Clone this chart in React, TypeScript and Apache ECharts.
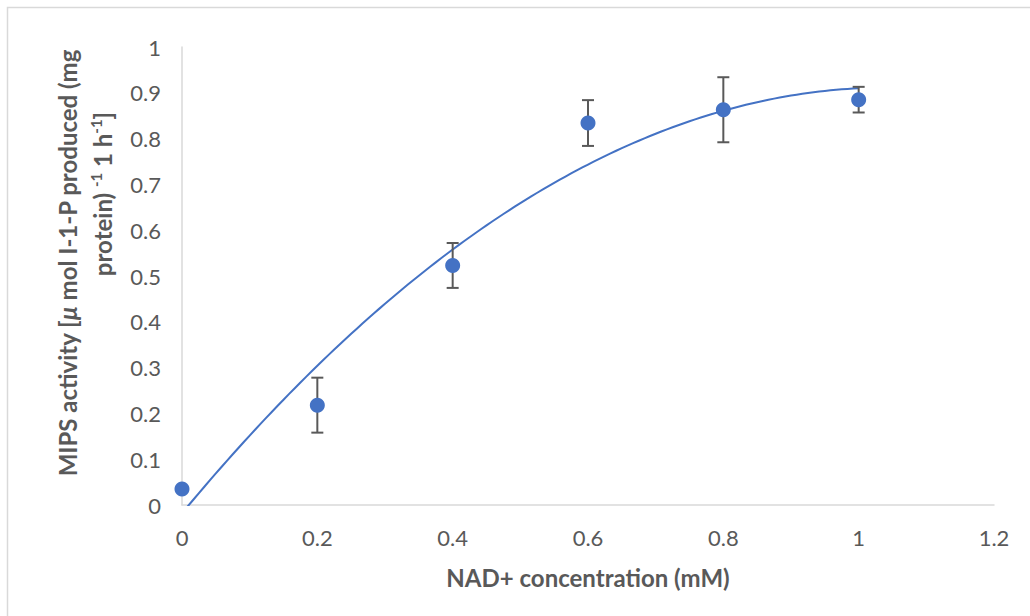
import React, { useEffect, useRef } from "react";
import * as echarts from "echarts";

// NAD+ concentration (mM)
const xValues = [0, 0.2, 0.4, 0.6, 0.8, 1.0];
// MIPS activity
const yValues = [0.035, 0.218, 0.523, 0.834, 0.863, 0.885];
// standard error (+/-)
const yErrors = [0, 0.06, 0.049, 0.05, 0.071, 0.028];

const xTicks = { min: 0, max: 1.2, interval: 0.2 };
const yTicks = { min: 0, max: 1, interval: 0.1 };

const BLUE = "#4472C4";
const GREY = "#595959";
const FONT = "Lato, 'Open Sans', sans-serif";

// least-squares quadratic fit (Excel polynomial trendline, order 2)
function polyFit2(xs: number[], ys: number[]) {
  const n = xs.length;
  let sx = 0, sx2 = 0, sx3 = 0, sx4 = 0, sy = 0, sxy = 0, sx2y = 0;
  for (let i = 0; i < n; i++) {
    const x = xs[i], y = ys[i];
    sx += x; sx2 += x * x; sx3 += x * x * x; sx4 += x * x * x * x;
    sy += y; sxy += x * y; sx2y += x * x * y;
  }
  const m = [
    [n, sx, sx2, sy],
    [sx, sx2, sx3, sxy],
    [sx2, sx3, sx4, sx2y],
  ];
  for (let i = 0; i < 3; i++) {
    for (let k = i + 1; k < 3; k++) {
      const f = m[k][i] / m[i][i];
      for (let j = i; j < 4; j++) m[k][j] -= f * m[i][j];
    }
  }
  const r = [0, 0, 0];
  for (let i = 2; i >= 0; i--) {
    let s = m[i][3];
    for (let j = i + 1; j < 3; j++) s -= m[i][j] * r[j];
    r[i] = s / m[i][i];
  }
  return { c: r[0], b: r[1], a: r[2] };
}

export default function App() {
  const ref = useRef<HTMLDivElement>(null);
  useEffect(() => {
    if (!ref.current) return;
    const chart = echarts.init(ref.current, null, { renderer: "svg" });
    const fit = polyFit2(xValues, yValues);
    const xStart = xValues[0];
    const xEnd = xValues[xValues.length - 1];
    const trend: number[][] = [];
    const steps = 120;
    for (let i = 0; i <= steps; i++) {
      const x = xStart + ((xEnd - xStart) * i) / steps;
      trend.push([x, fit.a * x * x + fit.b * x + fit.c]);
    }
    const errData = xValues.map((x, i) => [x, yValues[i], yErrors[i]]);
    const points = xValues.map((x, i) => [x, yValues[i]]);

    chart.setOption({
      animation: false,
      backgroundColor: "#ffffff",
      grid: { left: 182, right: 36, top: 47, bottom: 111, containLabel: false },
      xAxis: {
        type: "value",
        min: xTicks.min,
        max: xTicks.max,
        interval: xTicks.interval,
        axisLine: { show: true, lineStyle: { color: "#d9d9d9", width: 1.5 } },
        axisTick: { show: false },
        splitLine: { show: false },
        axisLabel: { color: GREY, fontSize: 22, fontFamily: FONT, margin: 21 },
        name: "NAD+ concentration (mM)",
        nameLocation: "middle",
        nameGap: 60,
        nameTextStyle: { color: GREY, fontSize: 24, fontWeight: "bold", fontFamily: FONT },
      },
      yAxis: {
        type: "value",
        min: yTicks.min,
        max: yTicks.max,
        interval: yTicks.interval,
        axisLine: { show: true, lineStyle: { color: "#d9d9d9", width: 1.5 } },
        axisTick: { show: false },
        splitLine: { show: false },
        axisLabel: { color: GREY, fontSize: 22, fontFamily: FONT, margin: 21 },
      },
      graphic: [
        {
          type: "rect",
          z: -10,
          silent: true,
          shape: { x: 7.5, y: 7.5, width: 1040, height: 640 },
          style: { fill: "none", stroke: "#d9d9d9", lineWidth: 1.5 },
        },
        {
          type: "text",
          x: 67,
          y: 263,
          rotation: Math.PI / 2,
          style: {
            text: "MIPS activity [{mu|μ} mol I-1-P produced (mg",
            fill: GREY,
            fontSize: 24,
            fontWeight: "bold",
            fontFamily: FONT,
            align: "center",
            verticalAlign: "middle",
            rich: {
              mu: { fontSize: 24, fontWeight: "bold", fontStyle: "italic", fontFamily: FONT, fill: GREY },
            },
          },
        },
        {
          type: "text",
          x: 102,
          y: 194,
          rotation: Math.PI / 2,
          style: {
            text: "protein) {sup|-1} 1 h{sup|-1}]",
            fill: GREY,
            fontSize: 24,
            fontWeight: "bold",
            fontFamily: FONT,
            align: "center",
            verticalAlign: "middle",
            lineHeight: 28,
            rich: {
              sup: { fontSize: 15, fontWeight: "bold", fontFamily: FONT, fill: GREY, verticalAlign: "top", lineHeight: 28 },
            },
          },
        },
      ],
      series: [
        {
          type: "line",
          data: trend,
          showSymbol: false,
          symbol: "none",
          smooth: false,
          clip: true,
          lineStyle: { color: BLUE, width: 2 },
          z: 2,
        },
        {
          type: "custom",
          data: errData,
          z: 3,
          renderItem: (params: any, api: any) => {
            const x = api.value(0);
            const y = api.value(1);
            const e = api.value(2);
            if (!e) return { type: "group", children: [] };
            const top = api.coord([x, y + e]);
            const bot = api.coord([x, y - e]);
            const hw = 6;
            const style = { stroke: GREY, lineWidth: 2 };
            return {
              type: "group",
              children: [
                { type: "line", shape: { x1: top[0], y1: top[1], x2: bot[0], y2: bot[1] }, style },
                { type: "line", shape: { x1: top[0] - hw, y1: top[1], x2: top[0] + hw, y2: top[1] }, style },
                { type: "line", shape: { x1: bot[0] - hw, y1: bot[1], x2: bot[0] + hw, y2: bot[1] }, style },
              ],
            };
          },
        },
        {
          type: "scatter",
          data: points,
          symbol: "circle",
          symbolSize: 15,
          itemStyle: { color: BLUE, opacity: 1 },
          z: 4,
        },
      ],
    });
    return () => chart.dispose();
  }, []);
  return (
    <div
      ref={ref}
      style={{ position: "fixed", left: 0, top: 0, width: 1030, height: 616, background: "#fff" }}
    />
  );
}
